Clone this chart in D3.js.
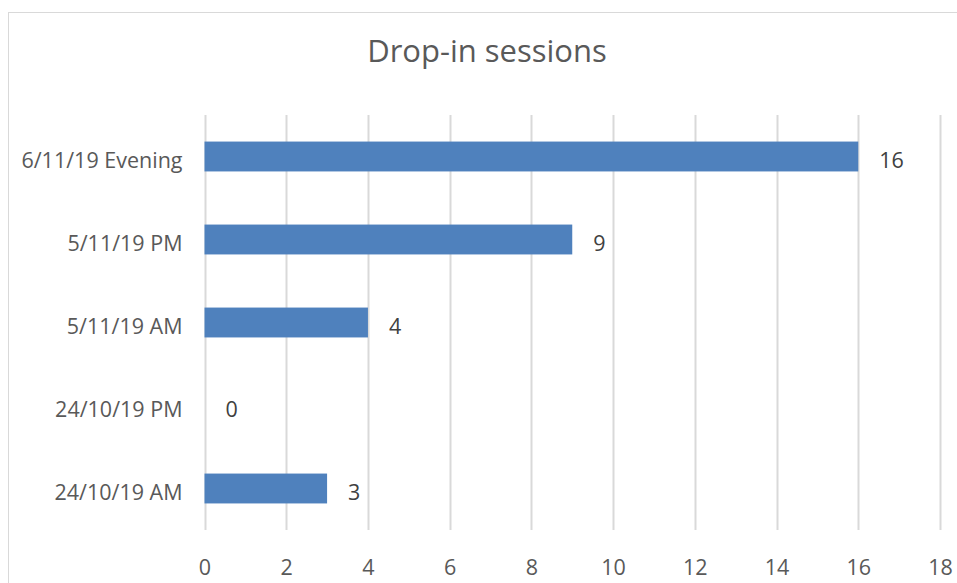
<!DOCTYPE html>
<html><head><meta charset="utf-8">
<script src="https://cdn.jsdelivr.net/npm/d3@7"></script>
<style>body{margin:0;background:#fff}svg{display:block}</style>
</head><body>
<script>
const title = "Drop-in sessions";
const categories = ["6/11/19 Evening","5/11/19 PM","5/11/19 AM","24/10/19 PM","24/10/19 AM"];
const values = [16, 9, 4, 0, 3];
const ticks = [0,2,4,6,8,10,12,14,16,18];

const W = 957, H = 583;
const svg = d3.select("body").append("svg").attr("width", W).attr("height", H);
const font = "'Open Sans', 'Liberation Sans', sans-serif";
const fs = 21.5;
svg.append("rect").attr("x",8.5).attr("y",12.5).attr("width",W+20).attr("height",H+20)
  .attr("fill","#fff").attr("stroke","#d9d9d9").attr("stroke-width",1);

const x = d3.scaleLinear().domain([0,18]).range([204.5,940]);
const y = d3.scaleBand().domain(categories).range([115,530]).paddingInner(0.64).paddingOuter(0.32);

svg.append("text").attr("x",487).attr("y",62).attr("text-anchor","middle")
  .attr("font-family",font).attr("font-size",31).attr("fill","#595959").text(title);

svg.append("g").selectAll("line").data(ticks).join("line")
  .attr("x1",d=>Math.round(x(d))+0.5).attr("x2",d=>Math.round(x(d))+0.5)
  .attr("y1",115).attr("y2",530).attr("stroke","#d9d9d9").attr("stroke-width",2);

const xAxis = svg.append("g").attr("transform","translate(0,530)")
  .call(d3.axisBottom(x).tickValues(ticks).tickSize(0).tickPadding(29.5).tickFormat(d3.format("d")));
xAxis.select(".domain").remove();
xAxis.selectAll("text").attr("font-family",font).attr("font-size",fs).attr("fill","#595959");

const yAxis = svg.append("g").attr("transform","translate(204.5,0)")
  .call(d3.axisLeft(y).tickSize(0).tickPadding(22));
yAxis.select(".domain").remove();
yAxis.selectAll("text").attr("font-family",font).attr("font-size",fs).attr("fill","#595959").attr("dy","0.52em");

svg.append("g").selectAll("rect").data(values).join("rect")
  .attr("x",x(0)).attr("y",(d,i)=>y(categories[i]))
  .attr("width",d=>x(d)-x(0)).attr("height",y.bandwidth()).attr("fill","#4f81bd");

svg.append("g").selectAll("text").data(values).join("text")
  .attr("x",d=>x(d)+21).attr("y",(d,i)=>y(categories[i])+y.bandwidth()/2)
  .attr("dy","0.52em").attr("font-family",font).attr("font-size",fs).attr("fill","#404040")
  .text(d=>d);
</script>
</body></html>
